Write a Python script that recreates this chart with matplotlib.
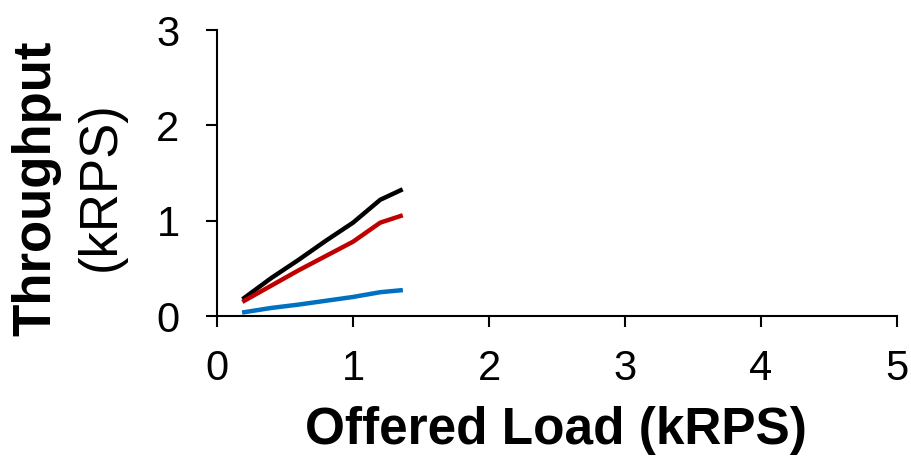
import matplotlib
matplotlib.use("Agg")
import matplotlib.pyplot as plt

plt.rcParams['font.family'] = ['Liberation Sans', 'DejaVu Sans']

# offered load (kRPS)
load = [0.2, 0.4, 0.6, 0.8, 1.0, 1.2, 1.35]
# throughput (kRPS) per series
tput_black = [0.19, 0.40, 0.59, 0.79, 0.98, 1.22, 1.32]
tput_red = [0.16, 0.32, 0.48, 0.63, 0.78, 0.98, 1.05]
tput_blue = [0.04, 0.085, 0.12, 0.16, 0.20, 0.25, 0.27]

fig = plt.figure(figsize=(9.12, 4.57), dpi=100)
ax = fig.add_axes([0.238, 0.3085, 0.7456, 0.6255])

ax.plot(load, tput_black, color='black', lw=3.2)
ax.plot(load, tput_red, color='#C00000', lw=3.2)
ax.plot(load, tput_blue, color='#0070C0', lw=3.2)

ax.set_xlim(0, 5)
ax.set_ylim(0, 3)
ax.set_xticks([0, 1, 2, 3, 4, 5])
ax.set_yticks([0, 1, 2, 3])

for s in ['top', 'right']:
    ax.spines[s].set_visible(False)
for s in ['left', 'bottom']:
    ax.spines[s].set_linewidth(1.5)
ax.tick_params(direction='out', length=8, width=1.5, labelsize=30)
ax.tick_params(axis='x', pad=16)
ax.tick_params(axis='y', pad=19)

# x label sits low, like the reference, but keep the parens inside the figure
fig.text(0.610, 0.005, 'Offered Load (kRPS)', ha='center', va='bottom',
         fontsize=37, fontweight='bold')
fig.text(0.040, 0.587, 'Throughput', ha='center', va='center', rotation=90,
         fontsize=38, fontweight='bold')
fig.text(0.111, 0.593, '(kRPS)', ha='center', va='center', rotation=90,
         fontsize=38)

fig.savefig('out.png', dpi=100)
